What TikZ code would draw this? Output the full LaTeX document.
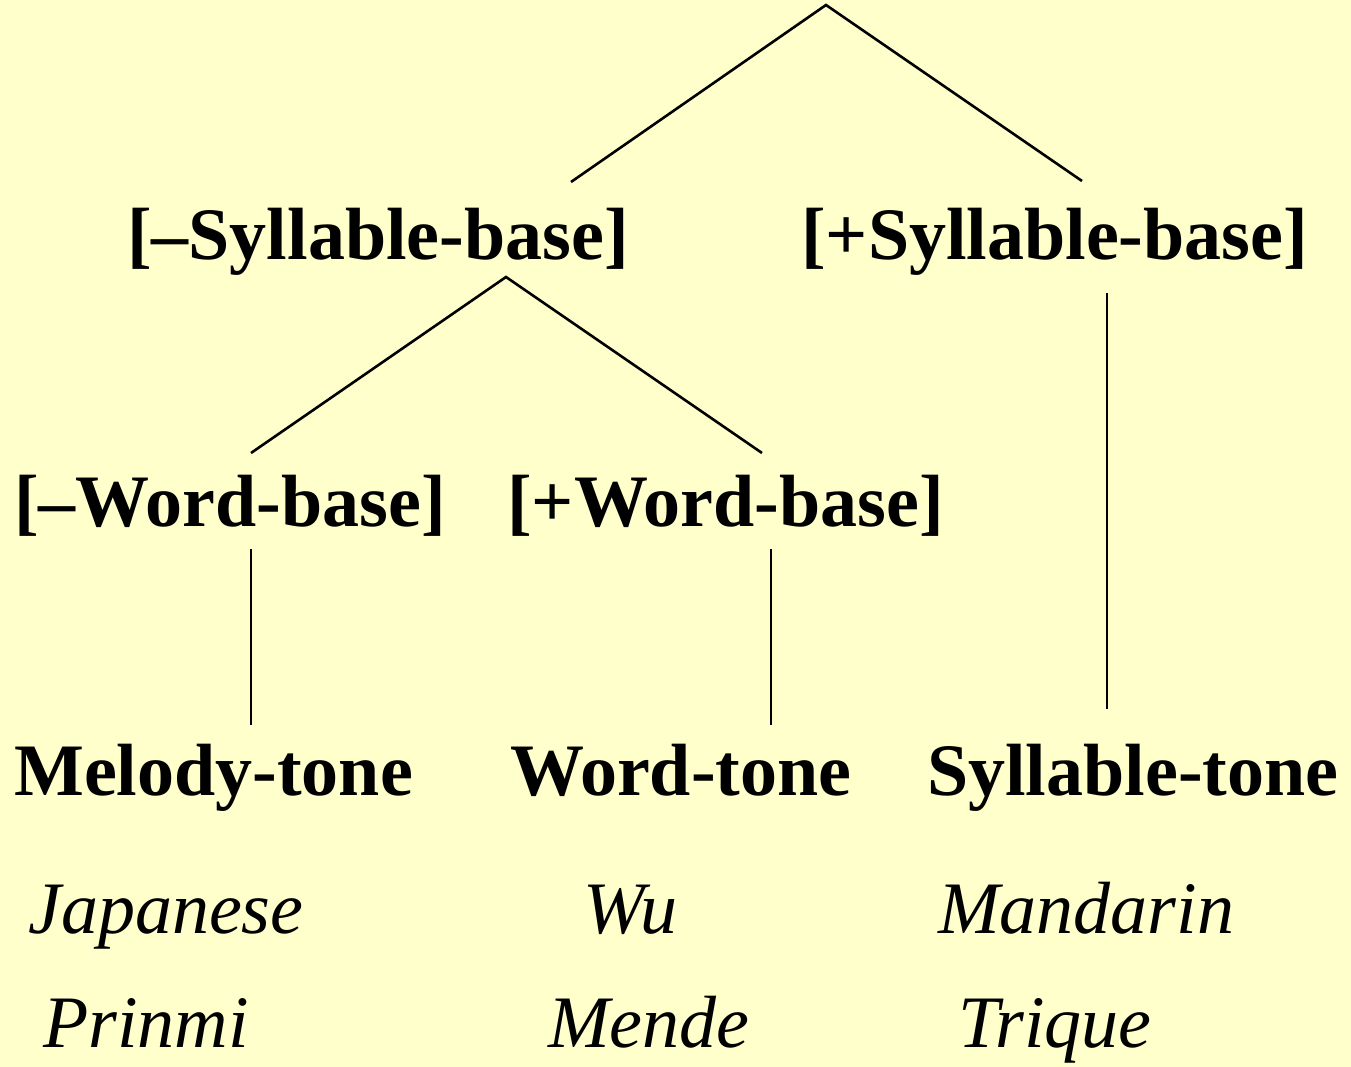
\documentclass[tikz,border=0pt]{standalone}
\usepackage{fontspec}
\setmainfont{Liberation Serif}
\definecolor{bgyellow}{RGB}{255,255,204}
\begin{document}
\begin{tikzpicture}[x=1pt,y=-1pt,
  feat/.style={anchor=base west,inner sep=0pt,font=\fontsize{74}{80}\selectfont\bfseries},
  lang/.style={anchor=base west,inner sep=0pt,font=\fontsize{74}{80}\selectfont\itshape},
  branch/.style={line width=2.6pt,black}]
\fill[bgyellow] (0,0) rectangle (1351,1067);
\useasboundingbox (0,0) rectangle (1351,1067);
% feature nodes
\node[feat] (msyl) at (127,259) {[–Syllable-base]};
\node[feat] (psyl) at (801,259) {[+Syllable-base]};
\node[feat] (mword) at (14,526) {[–Word-base]};
\node[feat] (pword) at (507,526) {[+Word-base]};
\node[feat] (melody) at (14,795) {Melody-tone};
\node[feat] (wordt) at (510,795) {Word-tone};
\node[feat] (sylt) at (927,795) {Syllable-tone};
% languages
\node[lang] (jap) at (28,933) {Japanese};
\node[lang] (wu) at (583,933) {Wu};
\node[lang] (mand) at (938,933) {Mandarin};
\node[lang] (prin) at (43,1047) {Prinmi};
\node[lang] (mende) at (548,1047) {Mende};
\node[lang] (triq) at (958,1047) {Trique};
% connector end points
\coordinate (top) at (826,5);
\coordinate (msylT) at (571,182);
\coordinate (psylT) at (1082,181);
\coordinate (msylB) at (506,277);
\coordinate (mwordT) at (251,453);
\coordinate (pwordT) at (762,453);
\coordinate (mwordB) at (251,549);
\coordinate (melodyT) at (251,725);
\coordinate (pwordB) at (771,549);
\coordinate (wordtT) at (771,725);
\coordinate (psylB) at (1107,293);
\coordinate (syltT) at (1107,709);
% connectors
\draw[branch] (msylT) -- (top) -- (psylT);
\draw[branch] (mwordT) -- (msylB) -- (pwordT);
\draw[branch] (mwordB) -- (melodyT);
\draw[branch] (pwordB) -- (wordtT);
\draw[branch] (psylB) -- (syltT);
\end{tikzpicture}
\end{document}
